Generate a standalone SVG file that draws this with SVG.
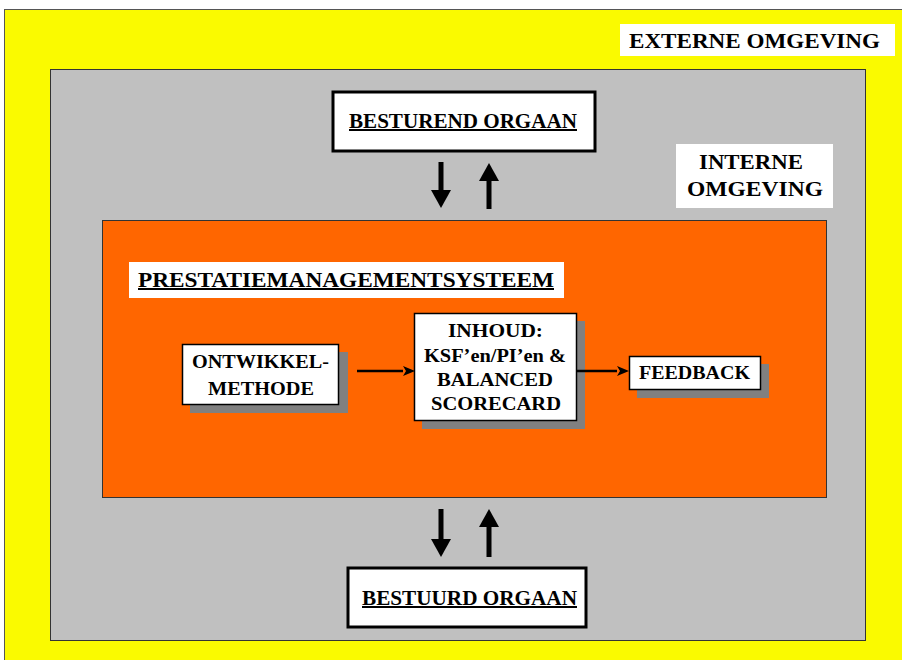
<svg xmlns="http://www.w3.org/2000/svg" width="902" height="660" viewBox="0 0 902 660">
<defs>
<marker id="big" viewBox="0 0 18 20" refX="0" refY="10" markerWidth="18" markerHeight="20" markerUnits="userSpaceOnUse" orient="auto"><path d="M0,0 L18,10 L0,20 z" fill="#000"/></marker>
<marker id="small" viewBox="0 0 12 10" refX="0" refY="5" markerWidth="12" markerHeight="10" markerUnits="userSpaceOnUse" orient="auto"><path d="M0,0 L12,5 L0,10 L3,5 z" fill="#000"/></marker>
</defs>
<style>
text{font-family:"Liberation Serif","Times New Roman",serif;font-weight:bold;fill:#000;}
.t19{font-size:20px;}
.t18{font-size:19px;}
.u{text-decoration:underline;}
.wb{fill:#fff;stroke:#000;stroke-width:3;}
.box{fill:#fff;stroke:#000;stroke-width:1.5;}
.sh{fill:#808080;}
.lab{fill:#fff;}
.big{stroke:#000;stroke-width:5;fill:none;}
.sm{stroke:#000;stroke-width:2.5;fill:none;}
</style>
<rect width="902" height="660" fill="#fff"/>
<g id="externe-omgeving">
<rect x="4.5" y="9.5" width="910" height="660" fill="#FAFA00" stroke="#555" stroke-width="1"/>
<rect class="lab" x="620" y="24" width="275" height="32"/>
<text class="t19" x="629" y="48" textLength="251" lengthAdjust="spacingAndGlyphs">EXTERNE OMGEVING</text>
</g>
<g id="interne-omgeving">
<rect x="50.5" y="69.5" width="815" height="571" fill="#C0C0C0" stroke="#333" stroke-width="1"/>
<rect class="lab" x="676" y="144" width="157" height="64"/>
<text class="t19" x="699" y="169" textLength="104" lengthAdjust="spacingAndGlyphs">INTERNE</text>
<text class="t19" x="687" y="196" textLength="136" lengthAdjust="spacingAndGlyphs">OMGEVING</text>
</g>
<g id="besturend-orgaan">
<rect class="wb" x="333" y="92" width="262" height="59"/>
<text class="t19 u" x="349" y="128" textLength="228" lengthAdjust="spacingAndGlyphs">BESTUREND ORGAAN</text>
</g>
<g id="prestatiemanagementsysteem">
<rect x="102.5" y="220.5" width="724" height="277" fill="#FF6600" stroke="#333" stroke-width="1"/>
<rect class="lab" x="129" y="262" width="435" height="36"/>
<text class="t19 u" x="138" y="287" textLength="416" lengthAdjust="spacingAndGlyphs">PRESTATIEMANAGEMENTSYSTEEM</text>
</g>
<g id="ontwikkelmethode">
<rect class="sh" x="190" y="352" width="158" height="61"/>
<rect class="box" x="182.5" y="344.5" width="156" height="60"/>
<text class="t18" x="192" y="368" textLength="137" lengthAdjust="spacingAndGlyphs">ONTWIKKEL-</text>
<text class="t18" x="208" y="395" textLength="106" lengthAdjust="spacingAndGlyphs">METHODE</text>
</g>
<g id="inhoud">
<rect class="sh" x="422" y="321" width="163" height="108"/>
<rect class="box" x="414.5" y="313.5" width="162" height="107"/>
<text class="t18" x="448" y="337" textLength="95" lengthAdjust="spacingAndGlyphs">INHOUD:</text>
<text class="t18" x="424" y="362" textLength="142" lengthAdjust="spacingAndGlyphs">KSF’en/PI’en &amp;</text>
<text class="t18" x="437" y="386" textLength="116" lengthAdjust="spacingAndGlyphs">BALANCED</text>
<text class="t18" x="431" y="410" textLength="130" lengthAdjust="spacingAndGlyphs">SCORECARD</text>
</g>
<g id="feedback">
<rect class="sh" x="637" y="364" width="132" height="34"/>
<rect class="box" x="629.5" y="356.5" width="131" height="33"/>
<text class="t18" x="639" y="379" textLength="111" lengthAdjust="spacingAndGlyphs">FEEDBACK</text>
</g>
<g id="bestuurd-orgaan">
<rect class="wb" x="348" y="568" width="238" height="59"/>
<text class="t19 u" x="362" y="605" textLength="215" lengthAdjust="spacingAndGlyphs">BESTUURD ORGAAN</text>
</g>
<g id="connectors">
<line class="big" x1="441" y1="162" x2="441" y2="190" marker-end="url(#big)"/>
<line class="big" x1="489" y1="209" x2="489" y2="181" marker-end="url(#big)"/>
<line class="big" x1="441" y1="509" x2="441" y2="539" marker-end="url(#big)"/>
<line class="big" x1="489" y1="557" x2="489" y2="527" marker-end="url(#big)"/>
<line class="sm" x1="357" y1="371" x2="403" y2="371" marker-end="url(#small)"/>
<line class="sm" x1="577" y1="371" x2="617" y2="371" marker-end="url(#small)"/>
</g>
</svg>
